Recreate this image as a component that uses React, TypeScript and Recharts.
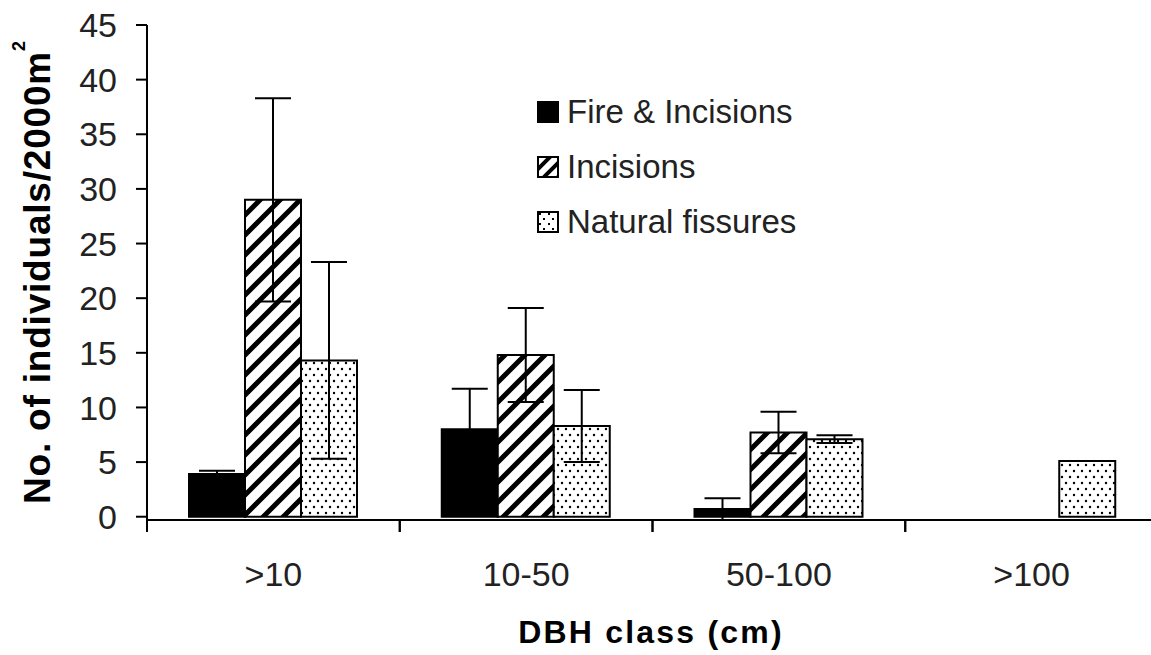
import React from "react";
import { BarChart, Bar, XAxis, YAxis, ErrorBar, Legend } from "recharts";

// ---- data ----
const categories = [">10", "10-50", "50-100", ">100"];
const fire = [3.9, 8.0, 0.7, null];
const fireErr = [0.3, 3.7, 1.0, null];
const incisions = [29.0, 14.8, 7.7, null];
const incisionsErr = [9.3, 4.3, 1.9, null];
const natural = [14.3, 8.3, 7.1, 5.1];
const naturalErr = [9.0, 3.3, 0.35, null];
const yTicks = [0, 5, 10, 15, 20, 25, 30, 35, 40, 45];

const seriesNames = ["Fire & Incisions", "Incisions", "Natural fissures"];

const rows = categories.map((cls, i) => ({
  cls,
  fire: fire[i],
  fireErr: fireErr[i],
  incisions: incisions[i],
  incisionsErr: incisionsErr[i],
  natural: natural[i],
  naturalErr: naturalErr[i],
}));

// ---- layout ----
const CHART_W = 1160;
const CHART_H = 655;
const MARGIN = { top: 25, right: 2, bottom: 0, left: 0 };
const Y_AXIS_W = 147;
const X_AXIS_H = 135;
const BAND = (CHART_W - MARGIN.left - MARGIN.right - Y_AXIS_W) / categories.length;
const FONT = "'Liberation Sans', Arial, sans-serif";

function CategoryTick(props: any) {
  const { x, y, payload } = props;
  const half = BAND / 2;
  return (
    <g>
      <line x1={x - half} y1={y} x2={x - half} y2={y + 12} stroke="#000" strokeWidth={2} />
      <line x1={x + half} y1={y} x2={x + half} y2={y + 12} stroke="#000" strokeWidth={2} />
      <text x={x} y={y + 66} textAnchor="middle" fontFamily={FONT} fontSize={34} fill="#222">
        {payload.value}
      </text>
    </g>
  );
}

function XTitle() {
  return (
    <text
      x={651}
      y={643}
      textAnchor="middle"
      fontFamily={FONT}
      fontWeight="bold"
      fontSize={32}
      letterSpacing={2.2}
      fill="#000"
    >
      DBH class (cm)
    </text>
  );
}

function YTitle() {
  return (
    <text
      x={50}
      y={504}
      transform="rotate(-90 50 504)"
      textAnchor="start"
      fontFamily={FONT}
      fontWeight="bold"
      fontSize={37}
      letterSpacing={0.8}
      fill="#000"
    >
      No. of individuals/2000m
      <tspan dy={-25} fontSize={18}>2</tspan>
    </text>
  );
}

function LegendIcon({ kind }: { kind: number }) {
  const fill = kind === 0 ? "#000" : kind === 1 ? "url(#hatchIcon)" : "url(#dotsIcon)";
  return (
    <svg width={22} height={22} style={{ display: "block" }}>
      <defs>
        <pattern id="hatchIcon" patternUnits="userSpaceOnUse" width="14" height="14">
          <rect width="14" height="14" fill="#fff" />
          <path d="M-4,4 l8,-8 M0,14 l14,-14 M10,18 l8,-8" stroke="#000" strokeWidth={4} />
        </pattern>
        <pattern id="dotsIcon" patternUnits="userSpaceOnUse" width="9" height="10">
          <rect width="9" height="10" fill="#fff" />
          <rect x="2" y="2" width="2" height="2" fill="#000" />
          <rect x="6" y="7" width="2" height="2" fill="#000" />
        </pattern>
      </defs>
      <rect x={1} y={1} width={20} height={20} fill={fill} stroke="#000" strokeWidth={2} />
    </svg>
  );
}

function ChartLegend() {
  return (
    <div style={{ fontFamily: FONT, fontSize: 33, color: "#222" }}>
      {seriesNames.map((name, i) => (
        <div key={name} style={{ display: "flex", alignItems: "center", height: 55 }}>
          <LegendIcon kind={i} />
          <span style={{ marginLeft: 8, whiteSpace: "nowrap" }}>{name}</span>
        </div>
      ))}
    </div>
  );
}

export default function App() {
  return (
    <div
      style={{
        position: "absolute",
        left: 0,
        top: 0,
        width: 1151,
        height: 655,
        overflow: "hidden",
        background: "#fff",
      }}
    >
      <BarChart
        width={CHART_W}
        height={CHART_H}
        data={rows}
        margin={MARGIN}
        barSize={56}
        barGap={0}
      >
        <defs>
          <pattern id="hatch" patternUnits="userSpaceOnUse" width="20" height="20">
            <rect width="20" height="20" fill="#fff" />
            <path d="M-5,5 l10,-10 M0,20 l20,-20 M15,25 l10,-10" stroke="#000" strokeWidth={5} />
          </pattern>
          <pattern id="dots" patternUnits="userSpaceOnUse" width="8" height="12">
            <rect width="8" height="12" fill="#fff" />
            <circle cx="2" cy="3" r="1.2" fill="#000" />
            <circle cx="6" cy="9" r="1.2" fill="#000" />
          </pattern>
        </defs>
        <XAxis
          dataKey="cls"
          height={X_AXIS_H}
          tickLine={false}
          tickSize={0}
          tickMargin={0}
          axisLine={{ stroke: "#000", strokeWidth: 2 }}
          tick={<CategoryTick />}
          interval={0}
          label={<XTitle />}
        />
        <YAxis
          width={Y_AXIS_W}
          domain={[0, 45]}
          ticks={yTicks}
          interval={0}
          tickSize={11}
          tickMargin={19}
          axisLine={{ stroke: "#000", strokeWidth: 2 }}
          tickLine={{ stroke: "#000", strokeWidth: 2 }}
          tick={{ fontFamily: FONT, fontSize: 34, fill: "#222" }}
          label={<YTitle />}
        />
        <Legend
          layout="vertical"
          align="center"
          verticalAlign="middle"
          content={() => <ChartLegend />}
          wrapperStyle={{ left: 537, top: 84, width: 320 }}
        />
        <Bar dataKey="fire" name={seriesNames[0]} fill="#000" stroke="#000" strokeWidth={2} isAnimationActive={false}>
          <ErrorBar dataKey="fireErr" width={18} stroke="#000" strokeWidth={2} direction="y" isAnimationActive={false} />
        </Bar>
        <Bar dataKey="incisions" name={seriesNames[1]} fill="url(#hatch)" stroke="#000" strokeWidth={2} isAnimationActive={false}>
          <ErrorBar dataKey="incisionsErr" width={18} stroke="#000" strokeWidth={2} direction="y" isAnimationActive={false} />
        </Bar>
        <Bar dataKey="natural" name={seriesNames[2]} fill="url(#dots)" stroke="#000" strokeWidth={2} isAnimationActive={false}>
          <ErrorBar dataKey="naturalErr" width={18} stroke="#000" strokeWidth={2} direction="y" isAnimationActive={false} />
        </Bar>
      </BarChart>
    </div>
  );
}
